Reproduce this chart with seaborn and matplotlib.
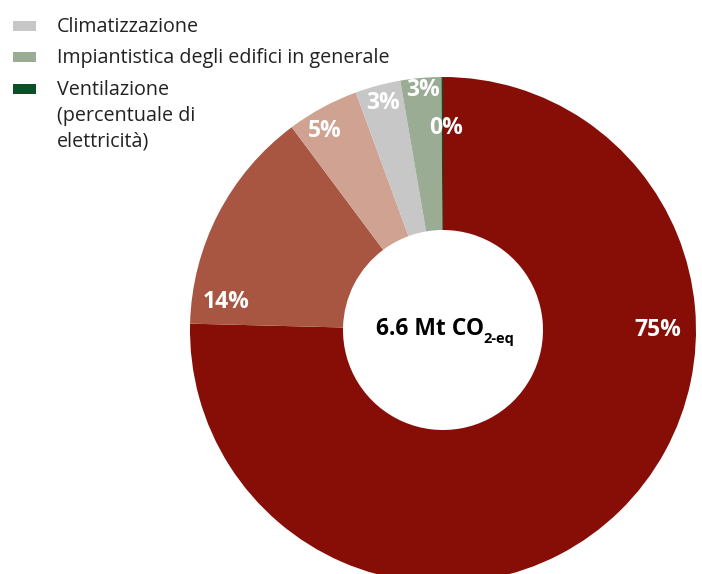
import seaborn as sns
import matplotlib.pyplot as plt
from matplotlib.patches import Rectangle
import numpy as np

# Data
shares = [75.4, 14.4, 4.6, 2.9, 2.6, 0.1]
share_labels = ["75%", "14%", "5%", "3%", "3%", "0%"]
slice_colors = ["#870E06", "#A85641", "#CFA291", "#C6C7C6", "#9AAC94", "#0B4F27"]

legend_names = ["Climatizzazione", "Impiantistica degli edifici in generale",
                "Ventilazione\n(percentuale di\nelettricità)"]
legend_colors = ["#C6C7C6", "#9AAC94", "#0B4F27"]
total_label = "6.6 Mt CO"
total_sub = "2-eq"

# label placement (clockwise angle from top, fraction of outer radius)
label_angle = [90, 277.4, 329.3, 345.2, 355.2, 0.8]
label_rfrac = [0.85, 0.865, 0.915, 0.93, 0.95, 0.80]

sns.set_theme(style="white")
plt.rcParams["font.family"] = ["Open Sans", "DejaVu Sans"]

W, H = 702, 574
fig = plt.figure(figsize=(W / 100, H / 100), dpi=100)
ax = fig.add_axes([0, 0, 1, 1])

cx, cy, r_out, r_in = 443, 244, 253, 100
ax.pie(shares, colors=slice_colors, startangle=90, counterclock=False,
       center=(cx, cy), radius=r_out,
       wedgeprops=dict(width=r_out - r_in, linewidth=0))
ax.set_xlim(0, W)
ax.set_ylim(0, H)
ax.set_aspect("equal")
ax.axis("off")

for lab, ang, rf in zip(share_labels, label_angle, label_rfrac):
    a = np.deg2rad(ang)
    ax.text(cx + rf * r_out * np.sin(a), cy + rf * r_out * np.cos(a), lab,
            color="white", fontsize=16.5, fontweight="bold", ha="center", va="center")

# center text with subscript
t1 = ax.text(0, 239, total_label, fontsize=16.5, fontweight="bold", color="black",
             ha="left", va="baseline")
t2 = ax.text(0, 231, total_sub, fontsize=10.5, fontweight="bold", color="black",
             ha="left", va="baseline")
fig.canvas.draw()
w1 = t1.get_window_extent().width
w2 = t2.get_window_extent().width
x0 = cx + 2 - (w1 + w2) / 2
t1.set_x(x0)
t2.set_x(x0 + w1)

# legend drawn by hand so the patch aligns with the first line
base_y = [542, 511, 479]
line_step = 26
for name, col, by in zip(legend_names, legend_colors, base_y):
    ax.add_patch(Rectangle((13, by + 1), 23, 10, color=col, linewidth=0))
    for i, line in enumerate(name.split("\n")):
        ax.text(57, by - i * line_step, line, fontsize=14.2, color="#222222",
                ha="left", va="baseline")

fig.savefig("out.png", dpi=100)
